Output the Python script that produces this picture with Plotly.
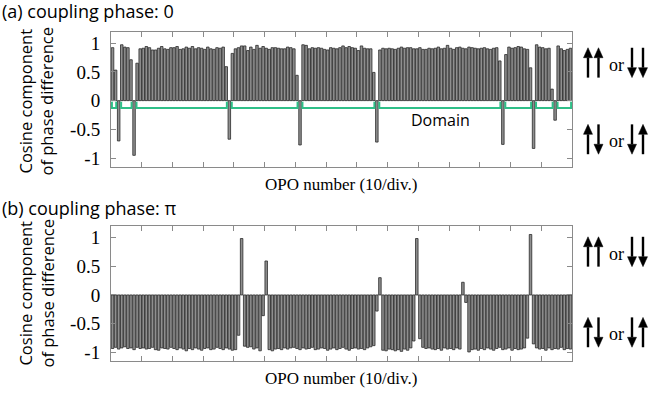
import plotly.graph_objects as go

# Cosine component of phase difference between adjacent OPOs
opo_a = [
    0.92, 0.53, -0.70, 0.97, 0.93, 0.92, 0.71, -0.95, 0.65, 0.90,
    0.91, 0.94, 0.92, 0.88, 0.88, 0.91, 0.94, 0.90, 0.89, 0.92,
    0.92, 0.94, 0.89, 0.90, 0.93, 0.91, 0.94, 0.90, 0.92, 0.91,
    0.89, 0.93, 0.90, 0.89, 0.92, 0.91, 0.93, 0.59, -0.67, 0.82,
    0.90, 0.92, 0.95, 0.95, 0.87, 0.93, 0.89, 0.96, 0.91, 0.94,
    0.91, 0.89, 0.92, 0.92, 0.91, 0.90, 0.90, 0.93, 0.92, 0.90,
    0.44, -0.77, 0.97, 0.96, 0.90, 0.92, 0.91, 0.92, 0.91, 0.89,
    0.88, 0.92, 0.91, 0.90, 0.92, 0.95, 0.92, 0.94, 0.92, 0.91,
    0.87, 0.95, 0.91, 0.90, 0.90, 0.49, -0.72, 0.88, 0.91, 0.90,
    0.91, 0.90, 0.89, 0.91, 0.93, 0.91, 0.92, 0.92, 0.90, 0.90,
    0.92, 0.89, 0.89, 0.91, 0.90, 0.91, 0.93, 0.90, 0.91, 0.96,
    0.91, 0.89, 0.92, 0.93, 0.91, 0.90, 0.93, 0.92, 0.91, 0.90,
    0.91, 0.92, 0.90, 0.89, 0.91, 0.92, 0.69, -0.76, 0.80, 0.93,
    0.91, 0.92, 0.94, 0.93, 0.90, 0.89, 0.57, -0.83, 0.97, 0.93,
    0.92, 0.90, 0.91, 0.20, -0.34, 0.95, 0.90, 0.87, 0.89, 0.91,
]
opo_b = [
    -0.93, -0.91, -0.94, -0.92, -0.90, -0.93, -0.92, -0.95, -0.91, -0.93,
    -0.92, -0.94, -0.93, -0.91, -0.95, -0.96, -0.92, -0.93, -0.94, -0.91,
    -0.93, -0.95, -0.92, -0.94, -0.97, -0.93, -0.95, -0.92, -0.94, -0.96,
    -0.93, -0.92, -0.95, -0.94, -0.91, -0.93, -0.95, -0.92, -0.94, -0.96,
    -0.95, -0.70, 0.98, -0.89, -0.91, -0.90, -0.94, -0.92, -0.97, -0.36,
    0.59, -0.95, -0.97, -0.94, -0.93, -0.95, -0.92, -0.94, -0.92, -0.91,
    -0.93, -0.95, -0.92, -0.94, -0.93, -0.91, -0.95, -0.94, -0.92, -0.93,
    -0.96, -0.94, -0.92, -0.95, -0.93, -0.91, -0.94, -0.96, -0.93, -0.92,
    -0.94, -0.93, -0.95, -0.92, -0.90, -0.88, -0.28, 0.30, -0.96, -0.97,
    -0.94, -0.95, -0.97, -0.95, -0.98, -0.94, -0.96, -0.92, -0.80, 0.98,
    -0.76, -0.91, -0.93, -0.92, -0.94, -0.95, -0.93, -0.96, -0.92, -0.94,
    -0.93, -0.95, -0.92, -0.94, 0.22, -0.13, -0.99, -0.95, -0.94, -0.96,
    -0.93, -0.95, -0.92, -0.94, -0.96, -0.93, -0.91, -0.95, -0.94, -0.92,
    -0.96, -0.93, -0.95, -0.94, -0.92, -0.75, 1.05, -0.85, -0.92, -0.94,
    -0.93, -0.96, -0.92, -0.95, -0.93, -0.94, -0.91, -0.95, -0.93, -0.94,
]
y_tick_vals = [-1, -0.5, 0, 0.5, 1]
y_tick_text = ["-1", "-0.5", "0", "0.5", "1"]
panel_titles = ["(a) coupling phase: 0", "(b) coupling phase: \u03c0"]
x_title = "OPO number (10/div.)"
y_title = "Cosine component<br>of phase difference"
domain_label = "Domain"

W, H = 650, 395
def px(v):
    return v / W
def py(v):
    return 1 - v / H

n = len(opo_a)
xs = [i + 0.5 for i in range(n)]

BAR_FILL = "#8f8f8f"
BAR_LINE = "#2a2a2a"
GREEN = "#2fbf88"
SERIF = "Liberation Serif, Tinos, Times New Roman, DejaVu Serif, serif"
SANS = "Open Sans, Noto Sans, sans-serif"

fig = go.Figure()
for vals, xa, ya in [(opo_a, "x", "y"), (opo_b, "x2", "y2")]:
    fig.add_trace(go.Bar(
        x=xs, y=vals, xaxis=xa, yaxis=ya, width=0.82,
        marker=dict(color=BAR_FILL, line=dict(color=BAR_LINE, width=0.8)),
        showlegend=False, hoverinfo="skip",
    ))

# domain brackets (between domain walls = negative bars)
neg = [i for i, v in enumerate(opo_a) if v < 0]
edges = [-1] + neg + [n]
bx, by = [], []
base, cap = -0.13, -0.02
for a, b in zip(edges[:-1], edges[1:]):
    s = a + 1 + 0.3
    e = b - 0.3
    if e <= s:
        continue
    bx += [s, s, e, e, None]
    by += [cap, base, base, cap, None]
fig.add_trace(go.Scatter(x=bx, y=by, mode="lines", xaxis="x", yaxis="y",
                         line=dict(color=GREEN, width=2), showlegend=False,
                         hoverinfo="skip"))

x_dom = [px(111), px(572)]
axis_common = dict(showline=True, linecolor="#8a8a8a", linewidth=1, mirror="allticks",
                   ticks="inside", ticklen=5, tickcolor="#8a8a8a", showgrid=False,
                   zeroline=False)
xcommon = dict(axis_common, range=[0, n], tick0=0, dtick=10, showticklabels=False,
               domain=x_dom)
ycommon = dict(axis_common, range=[-1.15, 1.2], tickvals=y_tick_vals, ticktext=y_tick_text,
               tickfont=dict(family=SERIF, size=19, color="black"),
               ticklabelstandoff=6)

fig.update_layout(
    width=W, height=H, autosize=False,
    margin=dict(l=0, r=0, t=0, b=0),
    paper_bgcolor="white", plot_bgcolor="white",
    bargap=0.15,
    font=dict(family=SANS),
    xaxis=dict(xcommon, anchor="y"),
    xaxis2=dict(xcommon, anchor="y2"),
    yaxis=dict(ycommon, anchor="x", domain=[py(167.7), py(31.7)]),
    yaxis2=dict(ycommon, anchor="x2", domain=[py(363), py(227)]),
)

ann = []
for title, ty in zip(panel_titles, [11, 209]):
    ann.append(dict(text=title, x=0, y=py(ty), xref="paper", yref="paper",
                    xanchor="left", yanchor="middle", showarrow=False,
                    font=dict(family=SANS, size=18, color="black")))
for ty in [185, 380]:
    ann.append(dict(text=x_title, x=px(341), y=py(ty), xref="paper", yref="paper",
                    xanchor="center", yanchor="middle", showarrow=False,
                    font=dict(family=SERIF, size=17, color="black")))
for ty in [102, 295]:
    ann.append(dict(text=y_title, x=px(36), y=py(ty), xref="paper", yref="paper",
                    xanchor="center", yanchor="middle", showarrow=False, textangle=-90,
                    font=dict(family=SANS, size=16.5, color="black")))
ann.append(dict(text=domain_label, x=px(440), y=py(121), xref="paper", yref="paper",
                xanchor="center", yanchor="middle", showarrow=False,
                font=dict(family=SANS, size=16, color="black")))

# spin-pair legends on the right, drawn as shapes (shaft + solid head)
shapes = []
HEAD_L, HEAD_W = 10, 9
def arrow(xc, top, bottom, up):
    tip, tail = (top, bottom) if up else (bottom, top)
    sgn = 1 if up else -1
    head_base = tip + sgn * HEAD_L
    shapes.append(dict(type="line", xref="paper", yref="paper",
                       x0=px(xc), x1=px(xc), y0=py(tail), y1=py(head_base),
                       line=dict(color="black", width=2.4)))
    path = "M {} {} L {} {} L {} {} Z".format(
        px(xc), py(tip), px(xc - HEAD_W / 2), py(head_base), px(xc + HEAD_W / 2), py(head_base))
    shapes.append(dict(type="path", xref="paper", yref="paper", path=path,
                       fillcolor="black", line=dict(color="black", width=0.5)))

rows = [
    (48, 78, [True, True], [False, False]),
    (125, 155, [True, False], [False, True]),
    (238, 268, [True, True], [False, False]),
    (319, 349, [True, False], [False, True]),
]
for top, bottom, left_pair, right_pair in rows:
    arrow(588, top, bottom, left_pair[0])
    arrow(598.5, top, bottom, left_pair[1])
    arrow(632, top, bottom, right_pair[0])
    arrow(643, top, bottom, right_pair[1])
    ann.append(dict(text="or", x=px(616), y=py((top + bottom) / 2 + 2), xref="paper",
                    yref="paper", xanchor="center", yanchor="middle", showarrow=False,
                    font=dict(family=SERIF, size=18, color="black")))

fig.update_layout(annotations=ann, shapes=shapes)
fig.write_html("out.html", config={"displayModeBar": False},
               post_script="document.body.style.margin='0';document.body.style.padding='0';")
